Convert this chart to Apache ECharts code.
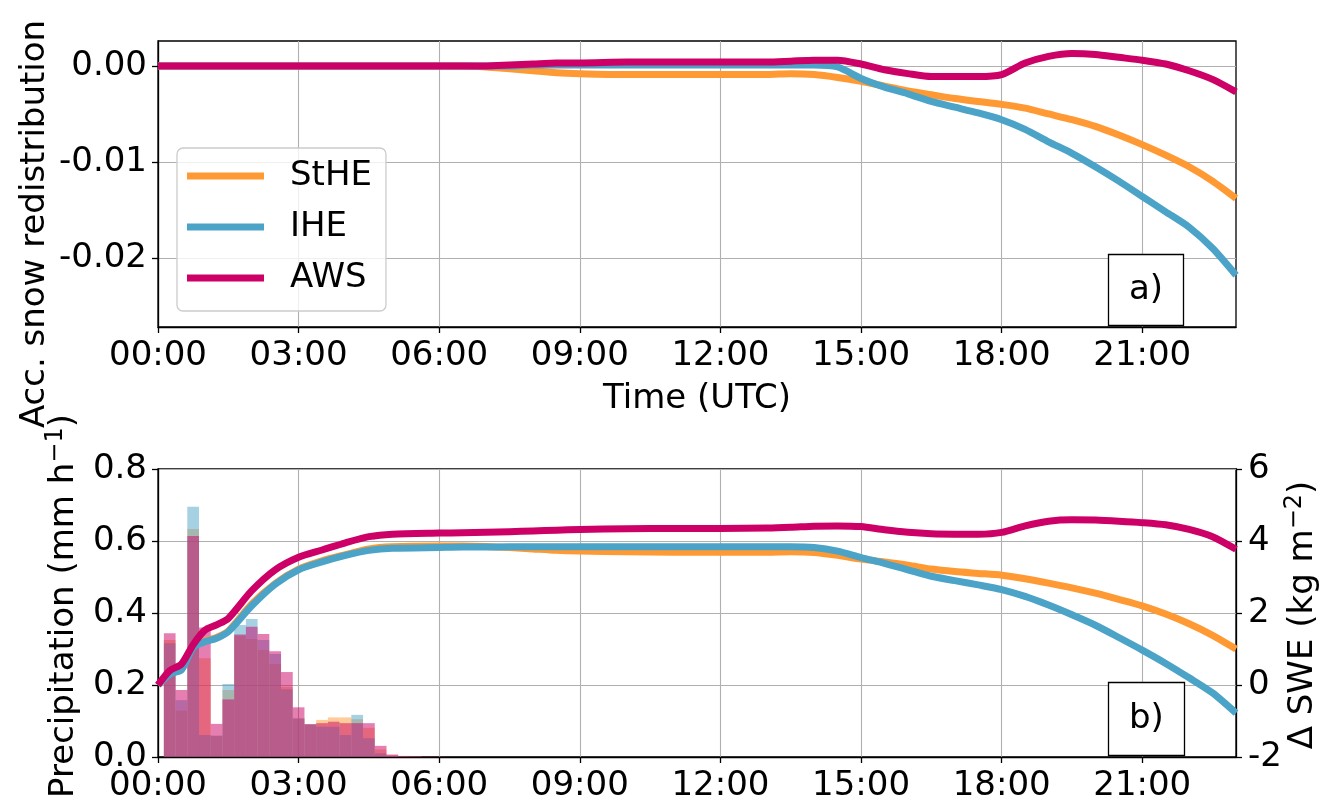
<!DOCTYPE html>
<html>
<head>
<meta charset="utf-8">
<script src="https://cdn.jsdelivr.net/npm/echarts@6/dist/echarts.min.js"></script>
<style>html,body{margin:0;padding:0;background:#fff}#c{width:1330px;height:808px}</style>
</head>
<body>
<div id="c"></div>
<script>
// ---------- data ----------
const seriesNames = ['StHE', 'IHE', 'AWS'];
const xTickHours = [0, 3, 6, 9, 12, 15, 18, 21];
const redisTicks = [-0.02, -0.01, 0];

const lineTimes = [0, 0.25, 0.5, 0.75, 1, 1.25, 1.5, 2, 2.5, 3, 3.5, 4, 4.5, 5, 6, 6.5, 7, 7.5, 8, 8.5, 9, 10, 11, 12, 13, 13.5, 14, 14.5, 15, 15.5, 16, 16.5, 17, 17.5, 18, 18.5, 19, 19.5, 20, 20.5, 21, 21.5, 22, 22.5, 23];

// (a) accumulated snow redistribution
const redisStHE = [0, 0, 0, 0, 0, 0, 0, 0, 0, 0, 0, 0, 0, 0, 0, 0, -0.0001, -0.0003, -0.0005, -0.0007, -0.0008, -0.0009, -0.0009, -0.0009, -0.0009, -0.0008, -0.0009, -0.0012, -0.0016, -0.0021, -0.0026, -0.0030, -0.0034, -0.0037, -0.0040, -0.0044, -0.0050, -0.0056, -0.0063, -0.0072, -0.0082, -0.0093, -0.0105, -0.0120, -0.0138];
const redisIHE = [0, 0, 0, 0, 0, 0, 0, 0, 0, 0, 0, 0, 0, 0, 0, 0, 0, 0, 0.0001, 0.0001, 0.0001, 0.0001, 0.0001, 0.0001, 0.0001, 0.0001, 0.0001, -0.0001, -0.0013, -0.0022, -0.0029, -0.0037, -0.0043, -0.0049, -0.0056, -0.0066, -0.0079, -0.0091, -0.0105, -0.0120, -0.0136, -0.0152, -0.0168, -0.0190, -0.0218];
const redisAWS = [0, 0, 0, 0, 0, 0, 0, 0, 0, 0, 0, 0, 0, 0, 0, 0, 0, 0.0001, 0.0002, 0.0003, 0.0003, 0.0004, 0.0004, 0.0004, 0.0004, 0.0005, 0.0006, 0.0006, 0.0002, -0.0004, -0.0008, -0.0011, -0.0011, -0.0011, -0.0009, 0.0003, 0.0010, 0.0013, 0.0012, 0.0009, 0.0006, 0.0002, -0.0005, -0.0014, -0.0027];

// (b) delta SWE
const sweStHE = [0, 0.32, 0.44, 1.06, 1.22, 1.32, 1.50, 2.25, 2.82, 3.22, 3.45, 3.62, 3.78, 3.84, 3.86, 3.86, 3.85, 3.82, 3.78, 3.74, 3.72, 3.70, 3.69, 3.69, 3.69, 3.70, 3.68, 3.60, 3.50, 3.42, 3.33, 3.22, 3.15, 3.10, 3.05, 2.95, 2.83, 2.70, 2.55, 2.38, 2.20, 1.97, 1.70, 1.38, 1.00];
const sweIHE = [0, 0.30, 0.42, 1.04, 1.20, 1.30, 1.48, 2.20, 2.80, 3.20, 3.42, 3.60, 3.74, 3.80, 3.82, 3.83, 3.83, 3.84, 3.84, 3.84, 3.84, 3.84, 3.84, 3.84, 3.84, 3.84, 3.82, 3.72, 3.54, 3.38, 3.20, 3.02, 2.90, 2.78, 2.65, 2.46, 2.22, 1.95, 1.66, 1.32, 0.97, 0.60, 0.20, -0.22, -0.78];
const sweAWS = [0, 0.40, 0.58, 1.12, 1.52, 1.67, 1.85, 2.62, 3.20, 3.55, 3.75, 3.95, 4.12, 4.19, 4.22, 4.23, 4.24, 4.26, 4.28, 4.30, 4.32, 4.34, 4.35, 4.35, 4.36, 4.38, 4.41, 4.42, 4.40, 4.31, 4.24, 4.20, 4.19, 4.19, 4.24, 4.42, 4.55, 4.59, 4.58, 4.55, 4.51, 4.45, 4.32, 4.12, 3.77];

// (b) precipitation, 15-min bins (bin edges in hours)
const binEdges = [0.125, 0.375, 0.625, 0.875, 1.125, 1.375, 1.625, 1.875, 2.125, 2.375, 2.625, 2.875, 3.125, 3.375, 3.625, 3.875, 4.125, 4.375, 4.625, 4.875, 5.125, 5.375, 5.625, 5.875, 6.125];
const precStHE = [0.325, 0.129, 0.633, 0.274, 0.059, 0.186, 0.337, 0.328, 0.297, 0.258, 0.195, 0.107, 0.091, 0.103, 0.110, 0.110, 0.105, 0.081, 0.021, 0.005, 0.002, 0.001, 0.000, 0.000];
const precIHE = [0.316, 0.158, 0.695, 0.061, 0.059, 0.203, 0.367, 0.383, 0.325, 0.286, 0.188, 0.107, 0.091, 0.084, 0.084, 0.061, 0.117, 0.052, 0.010, 0.003, 0.001, 0.001, 0.000, 0.000];
const precAWS = [0.344, 0.186, 0.614, 0.360, 0.092, 0.160, 0.340, 0.362, 0.342, 0.294, 0.236, 0.138, 0.091, 0.094, 0.098, 0.094, 0.094, 0.094, 0.031, 0.007, 0.003, 0.002, 0.001, 0.001];

// ---------- styles ----------
const COLORS = ['#ff9933', '#4ba3c7', '#cc0066'];
const BAR_COLORS = ['rgba(255,153,51,0.5)', 'rgba(75,163,199,0.5)', 'rgba(204,0,102,0.5)'];
const FONT = '"DejaVu Sans", sans-serif';
const FS = 34;
const GRID_COLOR = '#b0b0b0';

function hhmm(v) { return String(Math.round(v)).padStart(2, '0') + ':00'; }
function pairs(ts, vs) { return ts.map((t, i) => [t, vs[i]]); }

function xAxisCfg(gridIndex) {
  return {
    type: 'value', gridIndex: gridIndex, min: 0, max: 23, interval: 3,
    axisLine: { show: true, onZero: false, lineStyle: { color: '#000', width: 1.3 } },
    axisTick: { show: true, length: 6, customValues: xTickHours, lineStyle: { color: '#000', width: 1.3 } },
    axisLabel: { customValues: xTickHours, formatter: hhmm, fontSize: FS, fontFamily: FONT, color: '#000', margin: 12 },
    splitLine: { show: true, lineStyle: { color: GRID_COLOR, width: 1.1 } }
  };
}

function lineSeries(name, ts, vs, color, xi, yi) {
  return {
    name: name, type: 'line', xAxisIndex: xi, yAxisIndex: yi,
    data: pairs(ts, vs), showSymbol: false, symbol: 'none', smooth: 0.25,
    color: color, z: 3,
    lineStyle: { color: color, width: 7, cap: 'butt', join: 'round' }
  };
}

function barSeries(name, vals, color) {
  return {
    name: name, type: 'custom', xAxisIndex: 1, yAxisIndex: 1, z: 1, clip: true,
    encode: { x: [0, 1], y: 2 },
    data: vals.map((v, i) => [binEdges[i], binEdges[i + 1], v]),
    renderItem: function (params, api) {
      const a = api.coord([api.value(0), api.value(2)]);
      const b = api.coord([api.value(1), 0]);
      return { type: 'rect', shape: { x: a[0], y: a[1], width: b[0] - a[0], height: b[1] - a[1] }, style: { fill: color } };
    }
  };
}

const chart = echarts.init(document.getElementById('c'), null, { renderer: 'canvas' });
const option = {
  animation: false,
  backgroundColor: '#fff',
  textStyle: { fontFamily: FONT },
  grid: [
    { left: 158, right: 94, top: 41, height: 286, show: true, borderColor: '#000', borderWidth: 1.3, backgroundColor: 'transparent' },
    { left: 158, right: 94, top: 469, height: 288, show: true, borderColor: '#000', borderWidth: 1.3, backgroundColor: 'transparent' }
  ],
  xAxis: [xAxisCfg(0), xAxisCfg(1)],
  yAxis: [
    {
      type: 'value', gridIndex: 0, min: -0.0272, max: 0.0026,
      axisLine: { show: true, lineStyle: { color: '#000', width: 1.3 } },
      axisTick: { show: true, length: 6, customValues: redisTicks, lineStyle: { color: '#000', width: 1.3 } },
      axisLabel: { customValues: redisTicks, formatter: v => v.toFixed(2), fontSize: FS, fontFamily: FONT, color: '#000', margin: 11 },
      splitLine: { show: true, lineStyle: { color: GRID_COLOR, width: 1.1 } }
    },
    {
      type: 'value', gridIndex: 1, min: 0, max: 0.8, interval: 0.2, position: 'left',
      axisLine: { show: true, lineStyle: { color: '#000', width: 1.3 } },
      axisTick: { show: true, length: 6, lineStyle: { color: '#000', width: 1.3 } },
      axisLabel: { formatter: v => v.toFixed(1), fontSize: FS, fontFamily: FONT, color: '#000', margin: 11 },
      splitLine: { show: true, lineStyle: { color: GRID_COLOR, width: 1.1 } }
    },
    {
      type: 'value', gridIndex: 1, min: -2, max: 6, interval: 2, position: 'right',
      axisLine: { show: true, lineStyle: { color: '#000', width: 1.3 } },
      axisTick: { show: true, length: 6, lineStyle: { color: '#000', width: 1.3 } },
      axisLabel: { formatter: v => String(v), fontSize: FS, fontFamily: FONT, color: '#000', margin: 12 },
      splitLine: { show: false }
    }
  ],
  legend: {
    data: seriesNames, orient: 'vertical', left: 177, top: 148,
    icon: 'rect', itemWidth: 77, itemHeight: 7, itemGap: 11,
    padding: [8, 14, 13, 10],
    backgroundColor: 'rgba(255,255,255,0.8)', borderColor: '#cccccc', borderWidth: 1.3, borderRadius: 6,
    selectedMode: false,
    textStyle: { fontSize: FS, fontFamily: FONT, color: '#000', lineHeight: 40, padding: [0, 0, 0, 21] }
  },
  title: [
    { text: 'a)', left: 1108, top: 254, padding: [19, 21, 19, 21], borderColor: '#000', borderWidth: 1.3, backgroundColor: '#fff',
      textStyle: { fontSize: FS, fontWeight: 'normal', color: '#000', fontFamily: FONT, lineHeight: 34 } },
    { text: 'b)', left: 1108, top: 682, padding: [20, 21, 20, 21], borderColor: '#000', borderWidth: 1.3, backgroundColor: '#fff',
      textStyle: { fontSize: FS, fontWeight: 'normal', color: '#000', fontFamily: FONT, lineHeight: 34 } }
  ],
  graphic: [
    { type: 'text', x: 35, y: 224, rotation: Math.PI / 2,
      style: { text: 'Acc. snow redistribution', fontSize: FS, fontFamily: FONT, fill: '#000', align: 'center', verticalAlign: 'middle' } },
    { type: 'text', x: 697, y: 399,
      style: { text: 'Time (UTC)', fontSize: FS, fontFamily: FONT, fill: '#000', align: 'center', verticalAlign: 'middle' } },
    { type: 'text', x: 64, y: 606, rotation: Math.PI / 2,
      style: { text: 'Precipitation (mm h{sup|−1})', fontSize: FS, fontFamily: FONT, fill: '#000', align: 'center', verticalAlign: 'middle', lineHeight: 40,
        rich: { sup: { fontSize: 24, fontFamily: FONT, fill: '#000', verticalAlign: 'top', lineHeight: 24 } } } },
    { type: 'text', x: 1303, y: 615, rotation: Math.PI / 2,
      style: { text: 'Δ SWE (kg m{sup|−2})', fontSize: FS, fontFamily: FONT, fill: '#000', align: 'center', verticalAlign: 'middle', lineHeight: 40,
        rich: { sup: { fontSize: 24, fontFamily: FONT, fill: '#000', verticalAlign: 'top', lineHeight: 24 } } } }
  ],
  series: [
    lineSeries(seriesNames[0], lineTimes, redisStHE, COLORS[0], 0, 0),
    lineSeries(seriesNames[1], lineTimes, redisIHE, COLORS[1], 0, 0),
    lineSeries(seriesNames[2], lineTimes, redisAWS, COLORS[2], 0, 0),
    barSeries('StHE precipitation', precStHE, BAR_COLORS[0]),
    barSeries('IHE precipitation', precIHE, BAR_COLORS[1]),
    barSeries('AWS precipitation', precAWS, BAR_COLORS[2]),
    lineSeries(seriesNames[0], lineTimes, sweStHE, COLORS[0], 1, 2),
    lineSeries(seriesNames[1], lineTimes, sweIHE, COLORS[1], 1, 2),
    lineSeries(seriesNames[2], lineTimes, sweAWS, COLORS[2], 1, 2)
  ]
};
chart.setOption(option);
</script>
</body>
</html>
